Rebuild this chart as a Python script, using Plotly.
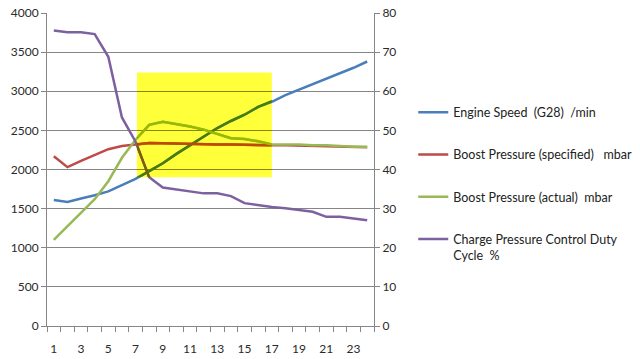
import plotly.graph_objects as go

categories = list(range(1, 25))
engine_speed = [1610, 1585, 1630, 1670, 1720, 1800, 1880, 1980, 2080, 2200, 2310, 2420,
                2530, 2620, 2700, 2800, 2865, 2950, 3020, 3080, 3160, 3230, 3300, 3380]
boost_specified = [2170, 2030, 2110, 2190, 2260, 2300, 2320, 2340, 2335, 2330, 2330, 2325,
                   2320, 2320, 2315, 2310, 2310, 2310, 2305, 2300, 2300, 2295, 2290, 2285]
boost_actual = [1100, 1270, 1450, 1620, 1850, 2150, 2380, 2570, 2610, 2580, 2550, 2510,
                2460, 2400, 2390, 2360, 2320, 2320, 2320, 2310, 2310, 2300, 2290, 2290]
duty_cycle = [75.5, 75.1, 75.1, 74.6, 68.8, 53.3, 47.1, 38.0, 35.4, 34.9, 34.3, 33.9,
              33.9, 33.2, 31.4, 30.9, 30.4, 30.1, 29.7, 29.2, 27.9, 27.9, 27.5, 27.0]

names = ["Engine Speed  (G28)  /min", "Boost Pressure (specified)   mbar",
         "Boost Pressure (actual)  mbar", "Charge Pressure Control Duty<br>Cycle  %"]
colors = ["#4A7EBB", "#BE4B48", "#98B954", "#7D60A0"]
# colours of each line where it passes through the yellow highlight (multiply blend)
colors_hl = ["#4A7E00", "#BE4B00", "#98B900", "#7D6000"]

highlight_x = [7.1, 17.0]
highlight_y = [1900, 3240]

FONT = "Lato"
GRID = "#868686"

fig = go.Figure()
series = [engine_speed, boost_specified, boost_actual, duty_cycle]
yaxes = ["y", "y", "y", "y2"]
for i, (vals, name, col, ya) in enumerate(zip(series, names, colors, yaxes)):
    fig.add_trace(go.Scatter(x=categories, y=vals, name=name, mode="lines",
                             line=dict(color=col, width=2.5), yaxis=ya, xaxis="x",
                             legendgroup=f"g{i}"))
# highlight overlay copies (clipped to the highlight subplot)
hl_axes = ["y3", "y3", "y3", "y4"]
for vals, col, ya in zip(series, colors_hl, hl_axes):
    fig.add_trace(go.Scatter(x=categories, y=vals, mode="lines", showlegend=False,
                             line=dict(color=col, width=2.5), xaxis="x3", yaxis=ya,
                             hoverinfo="skip"))

x_range = [0.5, 24.5]
y_range = [0, 4000]
y2_range = [0, 80]
scale2 = (y2_range[1] - y2_range[0]) / (y_range[1] - y_range[0])

fig.add_shape(type="rect", xref="x", yref="y",
              x0=highlight_x[0], x1=highlight_x[1], y0=highlight_y[0], y1=highlight_y[1],
              fillcolor="#FFFF3A", line=dict(width=0), layer="below")

dx0 = (highlight_x[0] - x_range[0]) / (x_range[1] - x_range[0])
dx1 = (highlight_x[1] - x_range[0]) / (x_range[1] - x_range[0])
dy0 = (highlight_y[0] - y_range[0]) / (y_range[1] - y_range[0])
dy1 = (highlight_y[1] - y_range[0]) / (y_range[1] - y_range[0])

tickfont = dict(family=FONT, size=12, color="#2A2A2A")
fig.update_layout(
    width=640, height=359,
    margin=dict(l=47, r=266, t=13, b=33, autoexpand=False),
    paper_bgcolor="white", plot_bgcolor="rgba(0,0,0,0)",
    font=dict(family=FONT, size=12, color="#222222"),
    showlegend=True,
    legend=dict(x=1.12, xanchor="left", y=0.73, yanchor="top",
                font=dict(family=FONT, size=12.5, color="#222222"),
                tracegroupgap=23, valign="top", traceorder="grouped",
                bgcolor="rgba(0,0,0,0)"),
    xaxis=dict(range=x_range, tickvals=categories[::2], ticktext=[str(c) for c in categories[::2]],
               ticks="", showgrid=False, showline=True, linecolor=GRID, linewidth=1,
               tickfont=tickfont, zeroline=False,
               minor=dict(tickvals=[c - 0.5 for c in categories] + [categories[-1] + 0.5],
                          ticks="outside", ticklen=5, tickcolor=GRID, showgrid=False),
               ticklabelstandoff=12),
    yaxis=dict(range=y_range, dtick=500, showgrid=True, gridcolor=GRID, gridwidth=1,
               showline=True, linecolor=GRID, ticks="outside", ticklen=5, tickcolor=GRID,
               tickfont=tickfont, zeroline=False),
    yaxis2=dict(range=y2_range, dtick=10, overlaying="y", side="right", showgrid=False,
                showline=True, linecolor=GRID, ticks="outside", ticklen=5, tickcolor=GRID,
                tickfont=tickfont, zeroline=False),
    xaxis3=dict(domain=[dx0, dx1], range=highlight_x, visible=False, anchor="y3"),
    yaxis3=dict(domain=[dy0, dy1], range=highlight_y, anchor="x3", tick0=0, dtick=500,
                showgrid=True, gridcolor="#868600", gridwidth=1, showticklabels=False,
                ticks="", showline=False, zeroline=False),
    yaxis4=dict(range=[v * scale2 for v in highlight_y], overlaying="y3", anchor="x3",
                visible=False, showgrid=False),
)

fig.write_html("out.html", config={"displayModeBar": False},
               post_script="document.body.style.margin='0';")
